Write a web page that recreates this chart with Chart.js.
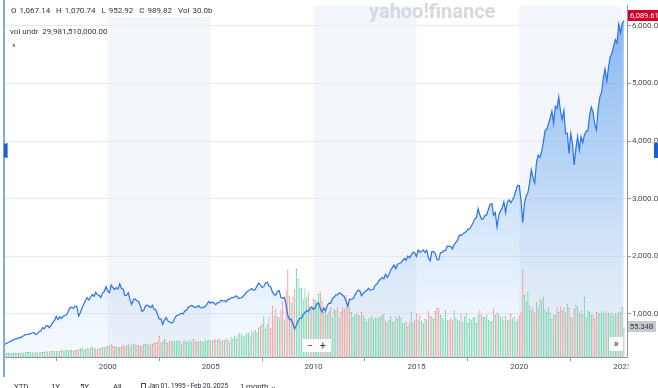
<!DOCTYPE html>
<html>
<head>
<meta charset="utf-8">
<script src="https://cdn.jsdelivr.net/npm/chart.js@4.4.1/dist/chart.umd.min.js"></script>
<style>
  html, body { margin: 0; padding: 0; background: #fff; overflow: hidden; }
  body { width: 658px; height: 388px; position: relative; font-family: Roboto, "Liberation Sans", Arial, sans-serif; }
  #c { position: absolute; left: 0; top: 0; }
  .ov { position: absolute; white-space: pre; font-size: 8px; color: #2f343a; line-height: 1; }
  #hdr { left: 8px; top: 5px; background: rgba(255,255,255,0.92); padding: 2px 3px; word-spacing: 1px; }
  #undr { left: 10px; top: 28px; }
  #caret { left: 12px; top: 43px; font-size: 9px; color: #555; }
  #logo { left: 369px; top: 1px; font-size: 20px; font-weight: bold; color: #d5d9df; letter-spacing: 0px; }
  #last { left: 628px; top: 10px; width: 30px; height: 11px; background: #d3002b; color: #fff; font-size: 7.5px; line-height: 11px; padding-left: 2px; box-sizing: border-box; }
  #vlast { left: 628px; top: 321px; height: 11px; background: #c6cad0; color: #33383e; font-size: 7.5px; line-height: 11px; padding: 0 2px; }
  #zoom { left: 302px; top: 339px; width: 29px; height: 13px; background: rgba(255,255,255,0.9); font-size: 10px; line-height: 13px; color: #333; }
  #more { left: 609px; top: 337px; width: 14px; height: 14px; background: #fff; font-size: 11px; line-height: 13px; text-align: center; color: #333; }
  #vline { position: absolute; left: 3px; top: 0; width: 2px; height: 377px; background: #7eaaea; }
  #hl { position: absolute; left: 3px; top: 143px; width: 5px; height: 15px; background: #1d5fd3; border: 1px solid #6f9ee6; box-sizing: border-box; }
  #hr { position: absolute; left: 654px; top: 143px; width: 4px; height: 15px; background: #1d5fd3; }
  .bt { position: absolute; top: 383px; font-size: 8px; color: #2f343a; white-space: pre; line-height: 1; letter-spacing: -0.2px; }
  #cal { position: absolute; left: 141px; top: 383px; width: 5px; height: 6px; border: 1px solid #444; box-sizing: border-box; }
</style>
</head>
<body>
<canvas id="c" width="658" height="388"></canvas>
<div id="vline"></div>
<div id="hl"></div>
<div id="hr"></div>
<div class="ov" id="hdr">O 1,067.14  H 1,070.74  L 952.92  C 989.82  Vol 30.0b</div>
<div class="ov" id="undr">vol undr  29,981,510,000.00</div>
<div class="ov" id="caret">^</div>
<div class="ov" id="logo">yahoo!finance</div>
<div class="ov" id="last">6,089.61</div>
<div class="ov" id="vlast">55.34B</div>
<div class="ov" id="zoom">  −   +</div>
<div class="ov" id="more">»</div>
<div class="bt" style="left:14px">YTD</div>
<div class="bt" style="left:51px">1Y</div>
<div class="bt" style="left:80px">5Y</div>
<div class="bt" style="left:113px">All</div>
<div id="cal"></div>
<div class="bt" style="left:148px;font-size:7px">Jan 01, 1995 - Feb 20, 2025</div>
<div class="bt" style="left:240px">1 month ⌄</div>
<script>
// monthly closes, Jan 1995 .. Feb 2025
const closes = [
  470, 487, 501, 515, 533, 545, 562, 562, 584, 582, 605, 616,
  636, 640, 646, 654, 669, 671, 640, 652, 687, 705, 757, 741,
  786, 791, 757, 801, 848, 885, 954, 899, 947, 915, 955, 970,
  980, 1049, 1102, 1112, 1091, 1134, 1121, 957, 1017, 1099, 1164, 1229,
  1280, 1238, 1286, 1335, 1302, 1373, 1329, 1320, 1283, 1363, 1389, 1469,
  1394, 1366, 1499, 1452, 1421, 1455, 1431, 1518, 1437, 1429, 1315, 1320,
  1366, 1240, 1160, 1249, 1256, 1224, 1211, 1134, 1041, 1060, 1139, 1148,
  1130, 1107, 1147, 1076, 1067, 990, 912, 916, 815, 886, 936, 880,
  856, 841, 848, 917, 964, 975, 990, 1008, 996, 1051, 1058, 1112,
  1131, 1145, 1126, 1107, 1121, 1141, 1102, 1104, 1115, 1130, 1174, 1212,
  1181, 1204, 1181, 1157, 1192, 1191, 1234, 1220, 1229, 1207, 1249, 1248,
  1280, 1281, 1295, 1311, 1270, 1270, 1277, 1304, 1336, 1378, 1401, 1418,
  1438, 1407, 1421, 1482, 1531, 1503, 1455, 1474, 1527, 1549, 1481, 1468,
  1379, 1331, 1323, 1386, 1400, 1280, 1267, 1283, 1166, 969, 896, 903,
  826, 735, 798, 873, 919, 919, 987, 1021, 1057, 1036, 1096, 1115,
  1074, 1104, 1169, 1187, 1089, 1031, 1102, 1049, 1141, 1183, 1181, 1258,
  1286, 1327, 1326, 1364, 1345, 1321, 1292, 1219, 1131, 1253, 1247, 1258,
  1312, 1366, 1408, 1398, 1310, 1362, 1379, 1407, 1441, 1412, 1416, 1426,
  1498, 1515, 1569, 1598, 1631, 1606, 1686, 1633, 1682, 1757, 1806, 1848,
  1783, 1859, 1872, 1884, 1924, 1960, 1931, 2003, 1972, 2018, 2068, 2059,
  1995, 2105, 2068, 2086, 2107, 2063, 2104, 1972, 1920, 2079, 2080, 2044,
  1940, 1932, 2060, 2065, 2097, 2099, 2174, 2171, 2168, 2126, 2199, 2239,
  2279, 2364, 2363, 2384, 2412, 2423, 2470, 2472, 2519, 2575, 2648, 2674,
  2824, 2714, 2641, 2648, 2705, 2718, 2816, 2902, 2914, 2712, 2760, 2507,
  2704, 2784, 2834, 2946, 2752, 2942, 2980, 2926, 2977, 3038, 3141, 3231,
  3226, 2954, 2585, 2912, 3044, 3100, 3271, 3500, 3363, 3270, 3622, 3756,
  3714, 3811, 3973, 4181, 4204, 4298, 4395, 4523, 4308, 4605, 4567, 4766,
  4516, 4374, 4530, 4132, 4132, 3785, 4130, 3955, 3586, 3872, 4080, 3840,
  4077, 3970, 4109, 4169, 4180, 4450, 4589, 4508, 4288, 4194, 4568, 4770,
  4846, 5096, 5254, 5036, 5278, 5460, 5522, 5648, 5762, 5705, 6032, 5882,
  6041, 6090
];

// monthly volume in billions
const volumes = [
  7.0, 7.3, 8.1, 6.9, 8.5, 8.2, 7.6, 8.0, 7.7, 8.6, 8.3, 8.5,
  8.9, 9.2, 9.5, 10.0, 9.1, 8.4, 10.2, 8.3, 8.7, 10.0, 9.6, 9.9,
  10.9, 10.5, 10.4, 11.4, 10.8, 11.0, 11.6, 10.8, 11.9, 14.1, 11.2, 12.0,
  13.4, 12.2, 13.1, 13.6, 11.8, 13.5, 13.8, 14.4, 15.0, 17.2, 14.2, 15.5,
  16.3, 15.8, 18.1, 18.5, 16.4, 16.2, 15.5, 16.3, 16.8, 18.8, 17.9, 19.0,
  20.7, 21.6, 24.1, 20.5, 18.7, 18.1, 18.6, 17.5, 18.6, 22.9, 20.2, 22.3,
  25.2, 20.4, 25.2, 24.0, 23.3, 22.0, 22.4, 20.1, 20.0, 25.3, 24.4, 23.3,
  25.9, 23.7, 24.4, 26.6, 26.6, 29.6, 39.3, 27.4, 29.5, 33.7, 28.4, 26.8,
  31.6, 28.1, 30.8, 29.7, 30.6, 31.6, 30.8, 25.6, 29.6, 31.1, 28.4, 27.8,
  32.8, 28.5, 34.0, 29.6, 28.1, 29.6, 30.4, 28.8, 29.0, 32.3, 30.6, 31.7,
  31.4, 30.2, 33.3, 32.5, 32.4, 34.1, 30.3, 32.6, 31.7, 35.2, 32.0, 29.1,
  36.6, 34.1, 40.4, 33.6, 42.0, 45.5, 40.8, 37.9, 40.5, 44.8, 46.1, 37.9,
  48.2, 46.6, 51.0, 45.2, 55.1, 58.9, 62.5, 76.7, 52.8, 62.0, 76.0, 55.3,
  96.3, 77.5, 89.6, 75.1, 72.7, 87.7, 104.3, 68.1, 125.6, 164.0, 114.9, 101.1,
  113.6, 126.6, 165.2, 146.4, 130.5, 129.8, 108.6, 129.0, 112.3, 121.0, 96.9, 90.4,
  108.8, 106.5, 106.2, 119.0, 121.8, 105.6, 84.6, 85.4, 79.2, 85.6, 92.8, 74.0,
  91.2, 86.4, 93.5, 74.2, 84.5, 93.2, 91.3, 117.2, 100.3, 94.9, 84.4, 74.9,
  78.3, 81.7, 80.1, 77.1, 84.5, 78.6, 71.4, 66.8, 72.4, 73.2, 77.9, 70.3,
  74.2, 72.8, 72.7, 75.2, 79.1, 80.3, 68.6, 64.5, 70.0, 76.4, 66.1, 67.2,
  76.0, 71.3, 78.1, 73.1, 63.2, 63.3, 65.4, 56.6, 64.8, 85.1, 64.6, 70.3,
  80.6, 70.3, 77.2, 68.6, 63.4, 71.2, 69.9, 86.0, 77.7, 75.6, 71.5, 87.0,
  92.5, 91.6, 79.1, 73.4, 68.9, 88.7, 68.9, 69.0, 72.5, 70.4, 88.0, 73.8,
  70.3, 68.6, 81.4, 65.4, 76.0, 82.2, 64.1, 71.2, 69.2, 73.4, 75.6, 64.0,
  79.8, 87.7, 79.4, 75.3, 73.6, 80.0, 70.2, 65.9, 67.5, 91.0, 79.3, 83.4,
  80.4, 74.3, 76.8, 68.5, 77.7, 69.1, 70.3, 81.0, 72.4, 75.3, 66.2, 70.8,
  77.5, 84.3, 164.1, 116.6, 103.2, 122.0, 96.1, 87.4, 93.6, 84.1, 103.1, 93.7,
  108.3, 106.8, 113.3, 88.4, 84.0, 92.5, 83.6, 71.6, 80.0, 78.9, 95.1, 85.0,
  95.5, 86.5, 92.6, 83.6, 98.9, 92.2, 74.6, 73.0, 90.2, 97.8, 94.3, 80.9,
  87.2, 79.0, 112.7, 74.0, 86.6, 84.5, 79.6, 79.7, 71.9, 84.8, 82.1, 81.0,
  86.1, 82.4, 85.6, 81.1, 82.6, 79.5, 83.8, 77.4, 82.0, 80.2, 84.1, 85.3,
  93.8, 55.34
];

const startYear = 1995;
const yearTicks = [2000, 2005, 2010, 2015, 2020, 2025];
const priceTicks = [1000, 2000, 3000, 4000, 5000, 6000];
const shadedFrom = [2000, 2010, 2020]; // 5-year shaded bands

const monthIdx = y => (y - startYear) * 12;

const up = closes.map((c, i) => i === 0 || c >= closes[i - 1]);

Chart.defaults.font.family = 'Roboto, "Liberation Sans", Arial, sans-serif';
Chart.defaults.font.size = 8;
Chart.defaults.color = '#454b52';

const bands = {
  id: 'bands',
  beforeDraw(chart) {
    const { ctx, chartArea: a, scales: { x } } = chart;
    ctx.save();
    ctx.fillStyle = '#f2f5f9';
    shadedFrom.forEach(y => {
      const x0 = x.getPixelForValue(monthIdx(y));
      const x1 = Math.min(x.getPixelForValue(monthIdx(y + 5)), a.right);
      ctx.fillRect(x0, a.top, x1 - x0, a.bottom - a.top);
    });
    ctx.restore();
  },
  afterDraw(chart) {
    // 2025 label is cut off by the price panel
    const { ctx, chartArea: a } = chart;
    ctx.save();
    ctx.fillStyle = '#fff';
    ctx.fillRect(a.right + 1.5, a.bottom + 2, 40, 14);
    ctx.restore();
  }
};

new Chart(document.getElementById('c').getContext('2d'), {
  data: {
    datasets: [{
      type: 'line',
      label: 'Close',
      data: closes.map((c, i) => ({ x: i, y: c })),
      yAxisID: 'y',
      borderColor: '#2a72e6',
      borderWidth: 1.2,
      pointRadius: 0,
      tension: 0,
      fill: 'start',
      backgroundColor: (ctx) => {
        const { chartArea, ctx: c } = ctx.chart;
        if (!chartArea) return 'rgba(66,142,240,0.3)';
        const g = c.createLinearGradient(0, chartArea.top, 0, chartArea.bottom);
        g.addColorStop(0, 'rgba(60,138,240,0.62)');
        g.addColorStop(0.5, 'rgba(90,160,240,0.35)');
        g.addColorStop(1, 'rgba(180,210,245,0.12)');
        return g;
      },
      order: 0
    }, {
      type: 'bar',
      label: 'Volume',
      data: volumes.map((v, i) => ({ x: i, y: v })),
      yAxisID: 'yv',
      backgroundColor: up.map(u => u ? 'rgba(120,214,176,0.85)' : 'rgba(244,160,156,0.85)'),
      borderColor: up.map(u => u ? '#3fbf8d' : '#ec6a68'),
      borderWidth: { top: 1, left: 0, right: 0, bottom: 0 },
      borderSkipped: 'bottom',
      barPercentage: 0.9,
      categoryPercentage: 0.9,
      order: 1
    }]
  },
  options: {
    responsive: false,
    animation: false,
    layout: { padding: { left: 4, right: 0, top: 0, bottom: 0 } },
    plugins: {
      legend: { display: false },
      tooltip: { enabled: false },
      filler: { drawTime: 'beforeDatasetsDraw' }
    },
    scales: {
      x: {
        type: 'linear',
        min: -0.5,
        max: 362.8,
        offset: false,
        grid: { drawOnChartArea: false, drawTicks: true, tickLength: 4, color: '#8f959c' },
        border: { display: true, color: '#8f959c' },
        afterBuildTicks: s => { s.ticks = yearTicks.map(y => ({ value: monthIdx(y) })); },
        afterFit: s => { s.height = 31; },
        ticks: {
          autoSkip: false,
          maxRotation: 0,
          padding: 1,
          callback: v => String(startYear + v / 12)
        }
      },
      y: {
        position: 'right',
        min: 248,
        max: 6350,
        grid: { color: '#e6e9ee', tickLength: 4, tickColor: '#8f959c' },
        border: { display: true, color: '#8f959c' },
        afterBuildTicks: s => { s.ticks = priceTicks.map(v => ({ value: v })); },
        afterFit: s => { s.width = 31; },
        ticks: {
          padding: 1,
          callback: v => v.toLocaleString('en-US', { minimumFractionDigits: 2, maximumFractionDigits: 2 })
        }
      },
      yv: {
        display: false,
        min: 0,
        max: 660
      }
    }
  },
  plugins: [bands]
});
</script>
</body>
</html>
